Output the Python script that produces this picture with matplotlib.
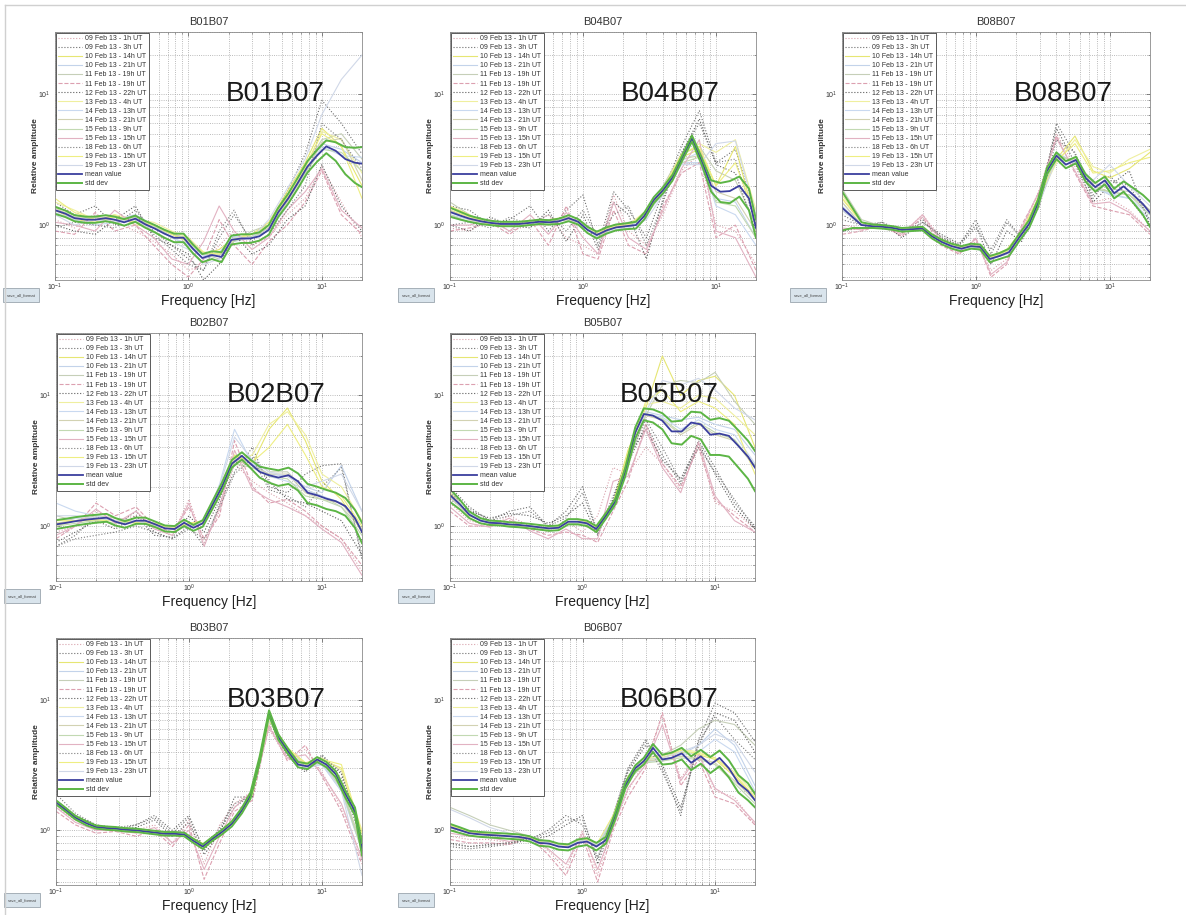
import numpy as np
import matplotlib.pyplot as plt
from matplotlib.patches import Rectangle
from matplotlib.lines import Line2D

plt.rcParams['font.family'] = ['Liberation Sans', 'DejaVu Sans']

# frequency axis of the averaged curves [Hz]
freq = [0.10, 0.12, 0.14, 0.17, 0.20, 0.24, 0.28, 0.33, 0.40, 0.47, 0.56, 0.66,
        0.78, 0.92, 1.08, 1.27, 1.5, 1.77, 2.1, 2.5, 2.9, 3.4, 4.0, 4.7, 5.6,
        6.6, 7.8, 9.2, 10.8, 12.7, 15.0, 17.7, 20.0]
# frequency axis of the single records [Hz]
freq_rec = [0.1, 0.14, 0.2, 0.28, 0.4, 0.55, 0.75, 1.0, 1.3, 1.7, 2.2, 3.0,
            4.0, 5.5, 7.5, 10, 14, 20]

record_labels = ['09 Feb 13 - 1h UT', '09 Feb 13 - 3h UT', '10 Feb 13 - 14h UT',
                 '10 Feb 13 - 21h UT', '11 Feb 13 - 19h UT', '11 Feb 13 - 19h UT',
                 '12 Feb 13 - 22h UT', '13 Feb 13 - 4h UT', '14 Feb 13 - 13h UT',
                 '14 Feb 13 - 21h UT', '15 Feb 13 - 9h UT', '15 Feb 13 - 15h UT',
                 '18 Feb 13 - 6h UT', '19 Feb 13 - 15h UT', '19 Feb 13 - 23h UT']
record_colors = ['#d9a3ad', '#6e6e6e', '#e6e673', '#c3d3ea', '#c6cfb8', '#dca0b0',
                 '#5e5e5e', '#efef9f', '#c9d9f0', '#d2d2b2', '#c2d9b2', '#e2b2c2',
                 '#7e7e7e', '#eeee82', '#d0d8e8']
record_styles = [':', ':', '-', '-', '-', '--', ':', '-', '-', '-', '-', '-',
                 ':', '-', '-']

# ---- B01B07 ----
b01_mean = [1.30, 1.22, 1.13, 1.10, 1.10, 1.13, 1.10, 1.05, 1.12, 1.02, 0.94, 0.86,
            0.80, 0.80, 0.66, 0.56, 0.59, 0.57, 0.77, 0.79, 0.79, 0.82, 0.92, 1.25,
            1.60, 2.10, 2.80, 3.40, 4.00, 3.70, 3.20, 3.00, 2.95]
b01_std = [0.08, 0.07, 0.06, 0.06, 0.06, 0.06, 0.06, 0.06, 0.06, 0.06, 0.06, 0.06,
           0.06, 0.06, 0.05, 0.04, 0.04, 0.05, 0.06, 0.06, 0.06, 0.06, 0.08, 0.10,
           0.14, 0.20, 0.28, 0.35, 0.45, 0.60, 0.75, 0.90, 1.00]
b01_records = [
    [1.1, 0.95, 1.2, 1.05, 0.9, 0.75, 0.6, 0.45, 0.5, 0.7, 0.9, 0.7, 0.8, 1.2, 1.6, 2.8, 1.5, 0.8],
    [1.5, 1.2, 1.4, 1.0, 1.3, 0.9, 0.7, 0.55, 0.45, 0.8, 1.2, 0.75, 1.0, 1.8, 3.5, 9.0, 6.0, 3.5],
    [1.3, 1.1, 1.05, 1.2, 1.0, 1.0, 0.85, 0.75, 0.6, 0.65, 0.8, 0.85, 1.05, 1.8, 3.0, 5.5, 4.0, 2.0],
    [1.2, 1.15, 1.1, 1.1, 1.2, 1.0, 0.8, 0.7, 0.55, 0.6, 0.75, 0.8, 0.95, 1.6, 2.6, 4.2, 3.8, 3.0],
    [1.4, 1.2, 1.1, 1.15, 1.05, 0.95, 0.85, 0.8, 0.6, 0.55, 0.75, 0.9, 1.0, 1.7, 2.8, 4.5, 5.0, 3.2],
    [0.9, 0.85, 1.25, 0.9, 1.0, 0.7, 0.5, 0.4, 0.55, 1.1, 0.7, 0.5, 0.75, 1.0, 1.5, 2.6, 1.2, 0.85],
    [1.0, 0.9, 0.85, 1.1, 1.4, 0.8, 0.7, 0.6, 0.38, 0.5, 0.85, 0.6, 0.7, 1.1, 1.4, 2.9, 1.4, 0.9],
    [1.5, 1.3, 1.1, 1.2, 1.1, 1.05, 0.9, 0.8, 0.62, 0.6, 0.8, 0.85, 1.0, 1.6, 2.7, 5.2, 4.5, 2.5],
    [1.25, 1.1, 1.0, 1.05, 1.15, 0.95, 0.8, 0.72, 0.58, 0.62, 0.82, 0.8, 0.9, 1.4, 2.4, 4.0, 3.4, 3.3],
    [1.35, 1.15, 1.15, 1.1, 1.1, 1.0, 0.88, 0.76, 0.6, 0.58, 0.78, 0.82, 0.95, 1.5, 2.5, 4.3, 4.6, 2.2],
    [1.3, 1.2, 1.1, 1.1, 1.15, 0.98, 0.8, 0.78, 0.6, 0.6, 0.76, 0.82, 0.9, 1.55, 2.5, 3.8, 3.6, 2.6],
    [1.05, 1.0, 0.9, 1.3, 1.0, 0.8, 0.55, 0.5, 0.75, 1.4, 0.9, 0.65, 0.8, 1.3, 1.8, 2.7, 1.3, 0.95],
    [0.95, 1.05, 1.0, 0.95, 1.2, 0.85, 0.65, 0.5, 0.45, 0.9, 1.3, 0.7, 0.85, 1.3, 2.0, 6.0, 4.5, 2.7],
    [1.6, 1.25, 1.1, 1.15, 1.05, 1.0, 0.85, 0.74, 0.62, 0.6, 0.78, 0.85, 1.0, 1.65, 2.8, 5.0, 4.0, 1.6],
    [1.2, 1.0, 1.1, 1.05, 1.1, 0.9, 0.75, 0.65, 0.5, 0.55, 0.8, 0.8, 1.1, 1.9, 3.2, 7.0, 13.0, 20.0],
]

# ---- B04B07 ----
b04_mean = [1.26, 1.18, 1.12, 1.07, 1.04, 1.02, 1.02, 1.02, 1.04, 1.06, 1.05, 1.07,
            1.13, 1.06, 0.92, 0.84, 0.91, 0.96, 0.98, 1.00, 1.18, 1.55, 1.85, 2.30,
            3.30, 4.60, 3.10, 2.00, 1.80, 1.82, 2.00, 1.60, 0.95]
b04_std = [0.10, 0.08, 0.06, 0.05, 0.04, 0.04, 0.04, 0.04, 0.04, 0.04, 0.04, 0.05,
           0.06, 0.05, 0.05, 0.05, 0.05, 0.05, 0.05, 0.06, 0.07, 0.08, 0.10, 0.12,
           0.16, 0.25, 0.20, 0.20, 0.30, 0.35, 0.35, 0.30, 0.15]
b04_records = [
    [0.95, 0.9, 1.1, 0.9, 1.0, 1.2, 0.8, 0.7, 0.6, 1.7, 0.9, 0.7, 1.2, 2.6, 3.5, 1.0, 0.9, 0.5],
    [1.4, 1.3, 1.0, 1.1, 1.4, 0.9, 1.3, 1.7, 0.7, 1.8, 1.3, 0.8, 1.8, 4.0, 7.5, 3.0, 3.8, 1.2],
    [1.3, 1.15, 1.05, 1.0, 1.05, 1.1, 1.15, 1.0, 0.85, 1.0, 1.0, 1.2, 1.9, 3.3, 3.8, 2.0, 4.0, 1.0],
    [1.2, 1.1, 1.05, 1.0, 1.05, 1.05, 1.1, 1.05, 0.85, 0.9, 1.0, 1.25, 1.8, 3.0, 3.0, 1.6, 1.5, 0.8],
    [1.5, 1.2, 1.0, 1.05, 1.0, 1.0, 1.15, 0.95, 0.9, 1.0, 1.05, 1.15, 2.0, 3.5, 4.0, 2.6, 2.2, 1.0],
    [0.9, 0.95, 1.05, 0.85, 1.1, 0.7, 1.4, 0.6, 0.55, 1.3, 0.7, 0.6, 1.4, 2.5, 3.0, 0.8, 1.0, 0.45],
    [1.0, 0.9, 1.15, 1.0, 0.95, 1.3, 0.75, 1.2, 0.65, 1.5, 1.2, 0.55, 1.6, 3.5, 6.5, 2.9, 2.5, 0.9],
    [1.35, 1.15, 1.0, 1.05, 1.0, 1.1, 1.1, 1.0, 0.85, 0.95, 1.0, 1.3, 1.9, 3.4, 4.2, 3.6, 4.5, 1.3],
    [1.25, 1.1, 1.05, 1.0, 1.05, 1.05, 1.1, 1.0, 0.8, 0.92, 0.95, 1.2, 1.75, 3.1, 3.6, 1.4, 1.2, 0.7],
    [1.3, 1.1, 1.0, 1.05, 1.05, 1.0, 1.15, 1.05, 0.85, 0.95, 1.0, 1.2, 1.85, 3.2, 3.4, 1.8, 1.6, 0.9],
    [1.2, 1.05, 1.0, 1.0, 1.05, 1.05, 1.1, 1.0, 0.82, 0.95, 0.98, 1.2, 1.8, 3.0, 3.3, 1.5, 1.4, 0.8],
    [1.0, 1.0, 1.1, 0.9, 1.2, 0.85, 1.25, 0.8, 0.6, 1.5, 0.8, 0.65, 1.3, 2.7, 4.5, 0.9, 0.8, 0.4],
    [1.0, 1.05, 0.95, 1.15, 1.0, 1.2, 0.9, 1.3, 0.8, 1.2, 1.4, 0.7, 1.5, 3.6, 6.0, 3.0, 3.2, 1.0],
    [1.4, 1.2, 1.0, 1.0, 1.05, 1.05, 1.1, 1.0, 0.88, 0.97, 1.0, 1.25, 1.9, 3.5, 4.0, 2.0, 3.0, 1.1],
    [1.15, 1.05, 1.05, 1.0, 1.0, 1.1, 1.1, 1.0, 0.8, 0.9, 0.95, 1.1, 1.7, 2.9, 2.9, 4.2, 4.4, 1.2],
]

# ---- B08B07 ----
b08_mean = [1.36, 1.15, 1.00, 0.98, 0.97, 0.95, 0.92, 0.93, 0.94, 0.82, 0.74, 0.69,
            0.66, 0.69, 0.68, 0.55, 0.58, 0.62, 0.80, 1.02, 1.45, 2.60, 3.40, 2.90,
            3.15, 2.30, 1.95, 2.20, 1.75, 1.98, 1.70, 1.45, 1.24]
b08_std = [0.45, 0.20, 0.05, 0.03, 0.03, 0.03, 0.03, 0.03, 0.03, 0.03, 0.03, 0.03,
           0.03, 0.03, 0.03, 0.03, 0.03, 0.04, 0.05, 0.07, 0.10, 0.15, 0.20, 0.18,
           0.18, 0.15, 0.15, 0.15, 0.15, 0.18, 0.22, 0.25, 0.27]
b08_records = [
    [1.0, 0.95, 0.95, 0.85, 1.2, 0.8, 0.6, 0.75, 0.45, 0.55, 0.9, 1.9, 5.0, 2.8, 1.5, 1.6, 1.3, 0.9],
    [1.2, 1.0, 1.05, 0.9, 1.1, 0.8, 0.7, 1.1, 0.6, 1.05, 0.8, 1.5, 6.0, 3.5, 1.6, 2.4, 1.6, 1.0],
    [1.6, 1.05, 0.95, 0.95, 0.92, 0.78, 0.68, 0.7, 0.58, 0.65, 0.9, 1.7, 3.2, 4.8, 2.6, 2.3, 2.7, 3.6],
    [1.5, 1.0, 1.0, 0.93, 0.95, 0.75, 0.65, 0.68, 0.55, 0.62, 0.85, 1.6, 3.6, 3.0, 2.0, 1.7, 1.6, 1.1],
    [1.9, 1.1, 0.98, 0.92, 0.95, 0.76, 0.68, 0.7, 0.56, 0.6, 0.82, 1.5, 3.3, 3.2, 2.1, 1.9, 1.8, 1.3],
    [0.85, 0.9, 1.0, 0.82, 1.15, 0.7, 0.6, 0.8, 0.4, 0.5, 1.0, 1.8, 4.8, 2.5, 1.4, 1.3, 1.2, 0.85],
    [0.9, 0.95, 1.05, 0.8, 1.05, 0.85, 0.72, 1.0, 0.5, 0.9, 0.75, 1.6, 5.5, 3.0, 1.5, 2.0, 2.6, 1.0],
    [1.7, 1.05, 0.95, 0.92, 0.93, 0.77, 0.66, 0.7, 0.57, 0.64, 0.88, 1.65, 3.0, 4.5, 2.8, 2.5, 3.2, 3.8],
    [1.4, 1.0, 0.97, 0.9, 0.93, 0.74, 0.65, 0.67, 0.55, 0.6, 0.84, 1.55, 3.4, 3.1, 1.9, 1.75, 1.6, 1.2],
    [1.5, 1.0, 0.96, 0.93, 0.95, 0.76, 0.67, 0.69, 0.56, 0.62, 0.86, 1.6, 3.3, 3.2, 2.0, 1.8, 1.7, 1.3],
    [1.3, 1.0, 0.97, 0.91, 0.94, 0.75, 0.66, 0.68, 0.55, 0.61, 0.85, 1.58, 3.5, 3.0, 1.9, 1.8, 1.7, 1.2],
    [0.95, 0.92, 1.0, 0.85, 1.2, 0.75, 0.62, 0.78, 0.42, 0.52, 0.95, 1.85, 4.6, 2.6, 1.45, 1.5, 1.25, 0.9],
    [1.1, 1.0, 1.0, 0.88, 1.05, 0.82, 0.7, 0.95, 0.65, 1.1, 0.8, 1.4, 4.5, 3.6, 1.7, 2.2, 2.0, 1.1],
    [1.6, 1.05, 0.95, 0.93, 0.93, 0.77, 0.67, 0.7, 0.57, 0.63, 0.88, 1.7, 3.1, 4.2, 2.5, 2.6, 3.0, 3.3],
    [1.3, 1.0, 0.96, 0.9, 0.94, 0.75, 0.66, 0.68, 0.55, 0.6, 0.84, 1.5, 3.2, 3.0, 2.2, 2.9, 2.0, 1.4],
]

# ---- B02B07 ----
b02_mean = [1.03, 1.06, 1.09, 1.12, 1.14, 1.16, 1.08, 1.03, 1.10, 1.10, 1.03, 0.96,
            0.95, 1.06, 0.97, 1.05, 1.45, 2.00, 3.00, 3.45, 3.00, 2.60, 2.45, 2.35,
            2.45, 2.20, 1.80, 1.72, 1.62, 1.55, 1.42, 1.15, 0.90]
b02_std = [0.08, 0.08, 0.08, 0.08, 0.08, 0.08, 0.07, 0.06, 0.06, 0.06, 0.05, 0.05,
           0.05, 0.06, 0.05, 0.06, 0.10, 0.15, 0.20, 0.22, 0.22, 0.25, 0.30, 0.32,
           0.35, 0.33, 0.30, 0.28, 0.27, 0.25, 0.22, 0.18, 0.16]
b02_records = [
    [0.9, 1.0, 1.3, 1.1, 1.2, 0.95, 0.85, 1.6, 0.75, 1.3, 3.0, 2.2, 1.8, 1.5, 1.2, 1.0, 0.8, 0.45],
    [0.7, 0.85, 1.2, 1.0, 1.3, 0.9, 0.8, 1.0, 0.7, 1.5, 2.6, 4.0, 2.0, 1.8, 2.5, 2.9, 3.0, 0.55],
    [1.05, 1.1, 1.1, 1.1, 1.05, 1.05, 0.95, 1.05, 1.1, 2.0, 3.5, 3.0, 5.5, 8.0, 4.5, 2.2, 1.6, 0.9],
    [1.1, 1.15, 1.15, 1.1, 1.1, 1.0, 0.95, 1.0, 1.1, 1.9, 3.3, 3.0, 2.5, 2.4, 2.0, 1.8, 2.9, 1.3],
    [1.2, 1.1, 1.2, 1.15, 1.1, 1.05, 0.98, 1.0, 1.05, 1.8, 3.1, 3.2, 2.6, 2.6, 1.9, 1.7, 1.4, 0.95],
    [0.8, 1.0, 1.5, 1.2, 1.4, 1.0, 0.9, 1.4, 0.8, 1.2, 4.5, 2.0, 1.5, 1.6, 1.3, 1.0, 0.8, 0.5],
    [0.75, 0.9, 1.1, 0.95, 1.2, 0.85, 0.82, 1.2, 0.9, 1.6, 3.0, 3.5, 2.2, 1.6, 1.5, 1.3, 1.1, 0.6],
    [1.0, 1.1, 1.1, 1.1, 1.08, 1.05, 0.96, 1.02, 1.1, 1.9, 3.2, 3.5, 6.0, 7.5, 5.0, 2.5, 2.0, 1.1],
    [1.5, 1.3, 1.2, 1.1, 1.1, 1.0, 0.95, 1.0, 1.05, 2.1, 5.5, 3.0, 2.4, 2.2, 1.9, 1.7, 1.5, 1.0],
    [1.05, 1.1, 1.15, 1.1, 1.1, 1.02, 0.96, 1.03, 1.08, 1.85, 3.2, 2.9, 2.5, 2.5, 1.8, 1.6, 1.5, 0.95],
    [1.0, 1.05, 1.1, 1.05, 1.08, 1.02, 0.95, 1.0, 1.05, 1.8, 3.0, 2.8, 2.4, 2.3, 1.7, 1.6, 1.4, 0.85],
    [0.85, 1.0, 1.35, 1.05, 1.3, 0.95, 0.85, 1.5, 0.7, 1.4, 3.8, 1.9, 1.6, 1.4, 1.2, 0.95, 0.75, 0.42],
    [0.7, 0.8, 0.85, 0.9, 1.0, 0.9, 0.8, 0.95, 0.8, 1.4, 2.5, 3.3, 1.9, 1.7, 1.4, 2.0, 2.8, 0.6],
    [1.1, 1.1, 1.12, 1.1, 1.07, 1.04, 0.96, 1.04, 1.1, 2.0, 3.4, 3.1, 4.0, 6.0, 3.5, 2.0, 1.7, 1.0],
    [1.2, 1.2, 1.15, 1.1, 1.1, 1.0, 0.95, 1.0, 1.05, 2.0, 4.8, 3.2, 2.6, 2.4, 2.0, 2.2, 2.5, 1.3],
]

# ---- B05B07 ----
b05_mean = [1.73, 1.45, 1.22, 1.10, 1.06, 1.05, 1.03, 1.02, 1.00, 0.98, 0.96, 0.97,
            1.08, 1.08, 1.05, 0.95, 1.20, 1.55, 2.60, 5.20, 7.20, 7.00, 6.40, 5.30,
            5.30, 6.20, 6.00, 5.00, 5.10, 4.90, 4.10, 3.40, 2.80]
b05_std = [0.20, 0.12, 0.07, 0.05, 0.04, 0.04, 0.04, 0.04, 0.04, 0.04, 0.04, 0.04,
           0.05, 0.05, 0.05, 0.05, 0.06, 0.08, 0.20, 0.50, 0.75, 0.80, 0.90, 1.00,
           1.10, 1.30, 1.40, 1.50, 1.60, 1.50, 1.30, 1.10, 0.95]
b05_records = [
    [1.5, 1.1, 1.0, 1.2, 1.0, 0.9, 1.1, 0.9, 1.2, 2.8, 2.5, 4.0, 3.0, 1.9, 4.2, 1.5, 1.3, 0.95],
    [2.0, 1.4, 1.1, 1.3, 1.4, 1.0, 1.3, 2.0, 0.9, 1.5, 3.0, 6.0, 3.5, 2.1, 4.5, 2.8, 1.5, 1.0],
    [1.8, 1.2, 1.05, 1.0, 1.0, 0.97, 1.05, 1.1, 1.0, 1.5, 3.8, 8.0, 20.0, 10.0, 13.0, 14.0, 10.0, 4.0],
    [1.7, 1.25, 1.07, 1.03, 1.0, 0.96, 1.05, 1.08, 0.95, 1.35, 3.2, 7.5, 7.0, 6.5, 6.8, 6.0, 5.5, 3.5],
    [1.9, 1.2, 1.05, 1.02, 1.0, 0.95, 1.04, 1.05, 0.92, 1.4, 3.0, 7.0, 12.0, 13.0, 12.5, 15.0, 9.0, 6.0],
    [1.3, 1.0, 1.0, 1.1, 0.95, 0.85, 0.9, 0.85, 0.75, 1.3, 2.2, 6.0, 3.0, 2.0, 4.0, 1.6, 1.2, 0.9],
    [1.6, 1.3, 1.15, 1.25, 1.2, 1.05, 1.2, 1.5, 0.85, 1.6, 3.4, 5.5, 3.2, 2.3, 4.3, 2.5, 1.4, 0.95],
    [1.75, 1.2, 1.06, 1.02, 1.0, 0.96, 1.05, 1.1, 0.96, 1.4, 3.5, 8.5, 9.0, 8.0, 10.0, 9.5, 7.0, 5.0],
    [1.7, 1.2, 1.05, 1.02, 1.0, 0.96, 1.04, 1.07, 0.94, 1.35, 3.1, 7.2, 6.8, 5.5, 6.5, 5.5, 5.0, 3.0],
    [1.65, 1.2, 1.06, 1.03, 1.0, 0.95, 1.05, 1.08, 0.95, 1.4, 3.2, 7.0, 6.5, 5.0, 6.0, 5.0, 4.5, 2.8],
    [1.7, 1.22, 1.05, 1.02, 0.99, 0.95, 1.04, 1.06, 0.94, 1.38, 3.1, 7.3, 6.6, 5.2, 6.2, 5.2, 4.6, 2.9],
    [1.4, 1.05, 0.98, 1.15, 0.92, 0.8, 0.95, 0.8, 0.8, 2.2, 2.4, 5.5, 2.8, 1.8, 4.4, 1.7, 1.1, 0.9],
    [1.8, 1.35, 1.1, 1.2, 1.3, 1.0, 1.15, 1.8, 0.88, 1.7, 3.3, 6.5, 4.0, 2.2, 4.0, 2.6, 1.6, 0.95],
    [1.75, 1.2, 1.06, 1.02, 1.0, 0.96, 1.05, 1.1, 0.98, 1.45, 3.6, 9.0, 11.0, 7.5, 9.0, 8.0, 6.0, 2.5],
    [1.7, 1.22, 1.06, 1.03, 1.0, 0.96, 1.05, 1.08, 0.95, 1.4, 3.2, 7.5, 13.0, 12.0, 13.5, 11.0, 8.0, 6.5],
]

# ---- B03B07 ----
b03_mean = [1.64, 1.42, 1.25, 1.13, 1.06, 1.04, 1.03, 1.01, 1.00, 0.98, 0.96, 0.94,
            0.94, 0.93, 0.83, 0.75, 0.86, 0.97, 1.12, 1.42, 1.85, 3.50, 8.00, 5.20,
            4.00, 3.20, 3.10, 3.50, 3.20, 2.70, 1.90, 1.40, 0.72]
b03_std = [0.06, 0.05, 0.04, 0.04, 0.03, 0.03, 0.03, 0.03, 0.03, 0.03, 0.03, 0.03,
           0.03, 0.03, 0.03, 0.03, 0.03, 0.04, 0.05, 0.07, 0.10, 0.20, 0.35, 0.25,
           0.20, 0.15, 0.15, 0.15, 0.15, 0.15, 0.12, 0.10, 0.08]
b03_records = [
    [1.5, 1.2, 1.0, 1.05, 1.0, 1.1, 0.8, 1.2, 0.55, 1.1, 1.6, 2.0, 6.0, 3.5, 4.2, 2.8, 1.5, 0.6],
    [1.7, 1.3, 1.05, 1.0, 1.1, 1.3, 1.0, 1.3, 0.7, 1.0, 1.5, 1.9, 7.5, 4.0, 3.0, 3.6, 2.5, 0.8],
    [1.65, 1.25, 1.07, 1.03, 1.0, 0.96, 0.95, 0.9, 0.78, 0.95, 1.2, 1.9, 7.0, 4.3, 3.2, 3.5, 3.0, 0.85],
    [1.6, 1.24, 1.06, 1.03, 1.0, 0.95, 0.94, 0.88, 0.76, 0.96, 1.2, 1.95, 7.3, 4.0, 3.0, 3.2, 2.0, 0.7],
    [1.7, 1.28, 1.07, 1.04, 1.0, 0.96, 0.95, 0.89, 0.77, 0.95, 1.22, 2.0, 7.4, 4.2, 3.3, 3.4, 2.2, 0.75],
    [1.4, 1.1, 0.95, 0.98, 0.9, 1.0, 0.75, 1.1, 0.42, 0.8, 1.4, 1.7, 6.5, 3.4, 4.5, 2.6, 1.4, 0.55],
    [1.6, 1.3, 1.1, 1.0, 1.05, 1.2, 0.9, 1.15, 0.65, 0.95, 1.8, 1.8, 7.0, 3.7, 2.8, 3.8, 2.7, 0.9],
    [1.65, 1.25, 1.06, 1.03, 1.0, 0.96, 0.95, 0.9, 0.78, 0.96, 1.2, 1.9, 7.1, 4.2, 3.3, 3.6, 2.9, 1.0],
    [1.62, 1.24, 1.06, 1.02, 1.0, 0.95, 0.94, 0.88, 0.76, 0.95, 1.2, 1.95, 7.2, 4.0, 3.0, 3.2, 2.0, 0.7],
    [1.64, 1.25, 1.06, 1.03, 1.0, 0.96, 0.94, 0.88, 0.77, 0.96, 1.21, 1.95, 7.2, 4.1, 3.1, 3.3, 2.1, 0.72],
    [1.66, 1.26, 1.07, 1.03, 1.0, 0.96, 0.94, 0.88, 0.76, 0.95, 1.2, 1.96, 7.3, 4.1, 3.1, 3.3, 2.1, 0.7],
    [1.5, 1.15, 1.0, 1.0, 0.95, 1.05, 0.8, 1.0, 0.5, 0.9, 1.5, 2.0, 6.2, 3.6, 3.8, 2.7, 1.6, 0.6],
    [1.9, 1.35, 1.1, 1.05, 1.1, 1.25, 0.95, 1.25, 0.7, 1.05, 1.6, 1.85, 7.8, 3.9, 2.9, 3.7, 2.8, 0.85],
    [1.65, 1.25, 1.07, 1.03, 1.0, 0.96, 0.95, 0.9, 0.78, 0.96, 1.2, 1.9, 7.0, 4.3, 3.3, 3.5, 3.2, 0.95],
    [1.6, 1.24, 1.06, 1.02, 1.0, 0.95, 0.94, 0.88, 0.76, 0.95, 1.2, 1.95, 7.2, 4.0, 3.0, 3.3, 2.0, 0.45],
]

# ---- B06B07 ----
b06_mean = [1.06, 1.00, 0.95, 0.93, 0.92, 0.91, 0.90, 0.89, 0.86, 0.80, 0.79, 0.75,
            0.74, 0.80, 0.82, 0.75, 0.84, 1.30, 2.20, 3.00, 3.40, 4.30, 3.50, 3.60,
            3.90, 3.30, 3.70, 3.20, 3.60, 3.00, 2.30, 2.00, 1.70]
b06_std = [0.06, 0.05, 0.04, 0.04, 0.04, 0.04, 0.04, 0.04, 0.04, 0.04, 0.04, 0.04,
           0.04, 0.05, 0.05, 0.05, 0.05, 0.08, 0.12, 0.15, 0.20, 0.30, 0.30, 0.35,
           0.40, 0.40, 0.45, 0.45, 0.50, 0.45, 0.35, 0.30, 0.20]
b06_records = [
    [0.9, 0.85, 0.85, 0.8, 0.9, 0.7, 0.5, 1.0, 0.45, 1.1, 2.0, 3.5, 7.5, 2.5, 4.0, 2.0, 1.8, 1.1],
    [0.75, 0.72, 0.75, 0.78, 0.85, 1.0, 1.3, 1.1, 0.6, 1.3, 3.0, 5.0, 3.0, 1.3, 5.0, 9.5, 8.0, 4.8],
    [1.1, 0.97, 0.93, 0.9, 0.87, 0.8, 0.75, 0.85, 0.78, 1.25, 2.5, 3.5, 3.6, 4.0, 3.8, 3.5, 2.6, 1.8],
    [1.05, 0.95, 0.92, 0.9, 0.86, 0.79, 0.74, 0.84, 0.76, 1.2, 2.4, 3.4, 3.4, 3.8, 4.5, 6.0, 4.5, 2.2],
    [1.5, 1.3, 1.1, 1.0, 0.9, 0.82, 0.76, 0.86, 0.78, 1.25, 2.5, 3.6, 3.8, 4.5, 6.0, 7.0, 6.5, 4.5],
    [0.85, 0.8, 0.8, 0.78, 0.88, 0.65, 0.45, 0.9, 0.4, 1.0, 1.8, 3.0, 8.0, 2.2, 3.5, 1.8, 1.6, 1.1],
    [0.8, 0.75, 0.78, 0.8, 0.85, 0.9, 1.1, 1.3, 0.55, 1.2, 2.8, 4.5, 3.2, 1.5, 4.5, 8.0, 7.0, 4.0],
    [1.1, 0.98, 0.93, 0.9, 0.88, 0.8, 0.76, 0.86, 0.8, 1.3, 2.6, 3.6, 3.7, 4.2, 4.0, 3.6, 2.8, 1.9],
    [1.05, 0.95, 0.92, 0.9, 0.86, 0.79, 0.74, 0.84, 0.76, 1.2, 2.4, 3.4, 3.5, 3.8, 4.0, 5.0, 4.0, 2.0],
    [1.06, 0.95, 0.92, 0.9, 0.86, 0.79, 0.74, 0.84, 0.76, 1.2, 2.4, 3.4, 3.5, 3.7, 3.6, 3.3, 2.4, 1.7],
    [1.04, 0.95, 0.92, 0.9, 0.86, 0.79, 0.74, 0.84, 0.76, 1.2, 2.4, 3.3, 3.4, 3.6, 3.5, 3.2, 2.3, 1.6],
    [0.95, 0.9, 0.88, 0.82, 0.9, 0.72, 0.55, 0.95, 0.5, 1.05, 2.1, 3.2, 6.5, 2.4, 3.8, 2.1, 1.7, 1.15],
    [0.78, 0.75, 0.77, 0.8, 0.87, 0.95, 1.2, 1.2, 0.62, 1.3, 2.9, 4.8, 2.8, 1.4, 4.8, 7.5, 5.0, 3.5],
    [1.1, 0.97, 0.93, 0.9, 0.87, 0.8, 0.76, 0.86, 0.8, 1.3, 2.5, 3.5, 3.6, 4.1, 3.9, 3.6, 2.7, 1.8],
    [1.45, 1.25, 1.05, 0.95, 0.9, 0.8, 0.75, 0.85, 0.78, 1.25, 2.5, 3.5, 3.6, 4.0, 4.5, 5.5, 4.8, 2.8],
]

W, H = 1186, 915
fig = plt.figure(figsize=(W / 100, H / 100), dpi=100)
fig.patch.set_facecolor('white')

# panel boxes in pixels: left, top, right, bottom
panels = [
    ('B01B07', b01_mean, b01_std, b01_records, (55, 32, 362, 280)),
    ('B04B07', b04_mean, b04_std, b04_records, (450, 32, 756, 280)),
    ('B08B07', b08_mean, b08_std, b08_records, (842, 32, 1150, 280)),
    ('B02B07', b02_mean, b02_std, b02_records, (56, 333, 362, 581)),
    ('B05B07', b05_mean, b05_std, b05_records, (450, 333, 755, 581)),
    ('B03B07', b03_mean, b03_std, b03_records, (56, 638, 362, 885)),
    ('B06B07', b06_mean, b06_std, b06_records, (450, 638, 755, 885)),
]


def draw_panel(name, mean, std, records, box):
    l, t, r, b = box
    ax = fig.add_axes([l / W, 1 - b / H, (r - l) / W, (b - t) / H])
    for vals, lab, col, ls in zip(records, record_labels, record_colors, record_styles):
        ax.plot(freq_rec, vals, color=col, ls=ls, lw=0.8, label=lab)
    mean = np.asarray(mean)
    std = np.asarray(std)
    ax.plot(freq, mean, color='#3b3f9e', lw=1.3, label='mean value')
    ax.plot(freq, mean + std, color='#5cb545', lw=1.4, label='std dev')
    ax.plot(freq, mean - std, color='#5cb545', lw=1.4)

    ax.set_xscale('log')
    ax.set_yscale('log')
    ax.set_xlim(0.1, 20)
    ax.set_ylim(0.38, 30)
    ax.grid(True, which='both', ls=':', color='#a5a5a5', lw=0.6)
    ax.tick_params(which='both', direction='in', top=True, right=True,
                   labelsize=5, colors='#555555', labelcolor='#333333')
    ax.tick_params(which='major', length=3, width=0.5)
    ax.tick_params(which='minor', length=1.5, width=0.4)
    ax.tick_params(axis='x', which='major', pad=1.5)
    ax.yaxis.set_minor_formatter(plt.NullFormatter())
    ax.xaxis.set_minor_formatter(plt.NullFormatter())
    for sp in ax.spines.values():
        sp.set_color('#8a8a8a')
        sp.set_linewidth(0.6)

    ax.set_title(name, fontsize=8, pad=5, color='#333333')
    ax.set_xlabel('Frequency [Hz]', fontsize=10, labelpad=0.5, color='#222222')
    ax.set_ylabel('Relative amplitude', fontsize=6, fontweight='bold',
                  labelpad=-1, color='#333333')
    ax.text(4.5, 10, name, fontsize=20, ha='center', va='center', color='#1a1a1a')

    leg = ax.legend(loc='upper left', fontsize=5, frameon=True, fancybox=False,
                    edgecolor='#404040', framealpha=1, borderaxespad=0.15,
                    labelspacing=0.3, handlelength=3.4, handletextpad=0.5,
                    borderpad=0.3)
    leg.get_frame().set_linewidth(0.6)
    for txt in leg.get_texts():
        txt.set_color('#333333')

    # the little export button under the axes
    bx = l - 52
    by = b + 8
    fig.add_artist(Rectangle((bx / W, 1 - (by + 14) / H), 36 / W, 14 / H,
                             transform=fig.transFigure, facecolor='#d9e4ec',
                             edgecolor='#9aa5ae', lw=0.6))
    fig.text((bx + 18) / W, 1 - (by + 7) / H, 'save_all_format', fontsize=3,
             ha='center', va='center', color='#444444')


for name, mean, std, records, box in panels:
    draw_panel(name, mean, std, records, box)

# window border
fig.add_artist(Line2D([5 / W, 1], [1 - 5 / H, 1 - 5 / H], transform=fig.transFigure,
                      color='#d0d0d0', lw=1))
fig.add_artist(Line2D([5 / W, 5 / W], [0, 1 - 5 / H], transform=fig.transFigure,
                      color='#d0d0d0', lw=1))

fig.savefig('out.png', dpi=100)
